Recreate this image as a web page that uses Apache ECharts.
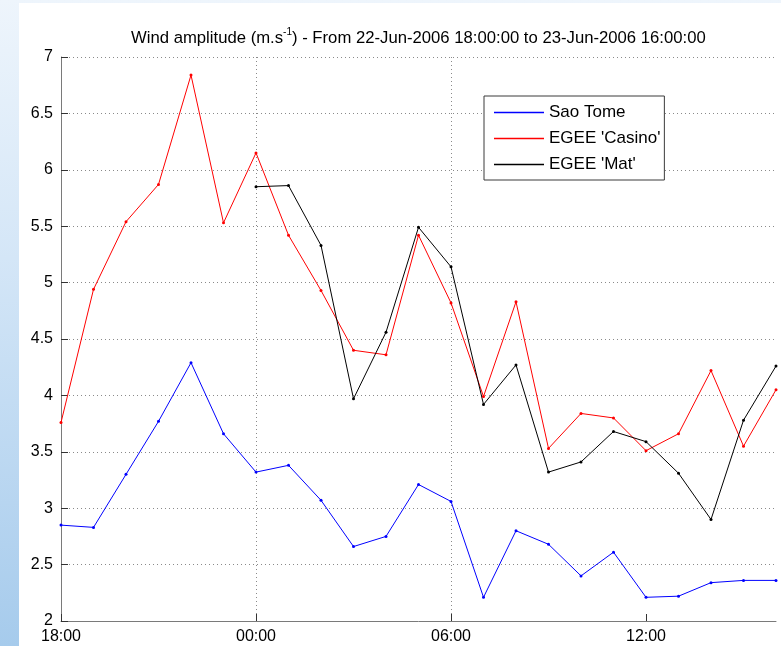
<!DOCTYPE html>
<html>
<head>
<meta charset="utf-8">
<script src="https://cdn.jsdelivr.net/npm/echarts@6/dist/echarts.min.js"></script>
<style>
  html, body { margin: 0; padding: 0; width: 781px; height: 646px; overflow: hidden;
    background: linear-gradient(to bottom, #eef5fc 0%, #d4e6f7 40%, #a6cbec 100%); }
  #panel { position: absolute; left: 19px; top: 3px; width: 762px; height: 643px; background: #ffffff; }
  #chart { position: absolute; left: 0; top: 0; width: 781px; height: 646px; }
</style>
</head>
<body>
<div id="panel"></div>
<div id="chart"></div>
<script>
// Hourly time labels from 22-Jun-2006 18:00 to 23-Jun-2006 16:00
const timeLabels = ['18:00','19:00','20:00','21:00','22:00','23:00','00:00','01:00','02:00','03:00','04:00','05:00',
                    '06:00','07:00','08:00','09:00','10:00','11:00','12:00','13:00','14:00','15:00','16:00'];
const seriesNames = ['Sao Tome', "EGEE 'Casino'", "EGEE 'Mat'"];
const saoTome = [2.85, 2.83, 3.30, 3.77, 4.29, 3.66, 3.32, 3.38, 3.07, 2.66, 2.75, 3.21,
                 3.06, 2.21, 2.80, 2.68, 2.40, 2.61, 2.21, 2.22, 2.34, 2.36, 2.36];
const casino  = [3.76, 4.94, 5.54, 5.87, 6.84, 5.53, 6.15, 5.42, 4.93, 4.40, 4.36, 5.42,
                 4.82, 3.99, 4.83, 3.53, 3.84, 3.80, 3.51, 3.66, 4.22, 3.55, 4.05];
const mat     = [null, null, null, null, null, null, 5.85, 5.86, 5.33, 3.97, 4.56, 5.49,
                 5.14, 3.92, 4.27, 3.32, 3.41, 3.68, 3.59, 3.31, 2.90, 3.78, 4.26];
const yTicks = [2, 2.5, 3, 3.5, 4, 4.5, 5, 5.5, 6, 6.5, 7];
const xTickHours = [0, 6, 12, 18];

const FONT = "'Liberation Sans', Arial, Helvetica, sans-serif";
const toPairs = arr => arr.map((v, i) => [i, v]);

const chart = echarts.init(document.getElementById('chart'), null, { renderer: 'canvas' });
const gridLine = { show: true, lineStyle: { color: '#8a8a8a', width: 1, type: [1, 3] } };

chart.setOption({
  backgroundColor: 'transparent',
  animation: false,
  title: {
    text: '{n|Wind amplitude (m.s}{s|-1}{n|) - From 22-Jun-2006 18:00:00 to 23-Jun-2006 16:00:00}',
    left: 131, top: 27, padding: 0,
    textStyle: {
      fontWeight: 'normal',
      rich: {
        n: { fontFamily: FONT, fontSize: 16.7, fontWeight: 'normal', color: '#000', lineHeight: 20, verticalAlign: 'bottom' },
        s: { fontFamily: FONT, fontSize: 10, fontWeight: 'normal', color: '#000', lineHeight: 20, verticalAlign: 'top' }
      }
    }
  },
  legend: {
    orient: 'vertical',
    left: 484, top: 96,
    padding: [8, 4, 7, 10],
    itemGap: 9,
    itemWidth: 50, itemHeight: 1.5,
    backgroundColor: '#ffffff',
    borderColor: '#3a3a3a', borderWidth: 1,
    textStyle: { fontFamily: FONT, fontSize: 17, color: '#000', lineHeight: 17 },
    data: seriesNames.map(n => ({ name: n, icon: 'rect' }))
  },
  grid: { left: 61, top: 57, right: 5, bottom: 25, containLabel: false },
  xAxis: {
    type: 'value', min: 0, max: timeLabels.length - 1, interval: 6,
    axisLine: { show: true, lineStyle: { color: '#7a7a7a', width: 1 } },
    axisTick: { show: true, inside: true, length: 7, lineStyle: { color: '#333' }, customValues: xTickHours },
    axisLabel: { show: true, customValues: xTickHours, fontFamily: FONT, fontSize: 16, color: '#000', margin: 8,
                 formatter: v => timeLabels[Math.round(v)] },
    splitLine: Object.assign({ showMaxLine: false }, gridLine)
  },
  yAxis: {
    type: 'value', min: 2, max: 7, interval: 0.5,
    axisLine: { show: true, lineStyle: { color: '#7a7a7a', width: 1 } },
    axisTick: { show: true, inside: true, length: 7, lineStyle: { color: '#333' } },
    axisLabel: { fontFamily: FONT, fontSize: 16, color: '#000', margin: 8,
                 formatter: v => String(yTicks.find(t => Math.abs(t - v) < 1e-6)) },
    splitLine: gridLine
  },
  series: [
    { name: seriesNames[0], type: 'line', data: toPairs(saoTome), color: '#0000ff',
      lineStyle: { width: 1, color: '#0000ff' }, symbol: 'circle', symbolSize: 3,
      itemStyle: { color: '#0000ff' }, showAllSymbol: true },
    { name: seriesNames[1], type: 'line', data: toPairs(casino), color: '#ff0000',
      lineStyle: { width: 1, color: '#ff0000' }, symbol: 'circle', symbolSize: 3,
      itemStyle: { color: '#ff0000' }, showAllSymbol: true },
    { name: seriesNames[2], type: 'line', data: toPairs(mat), color: '#000000',
      lineStyle: { width: 1, color: '#000000' }, symbol: 'circle', symbolSize: 3,
      itemStyle: { color: '#000000' }, showAllSymbol: true, connectNulls: false }
  ]
});
</script>
</body>
</html>
